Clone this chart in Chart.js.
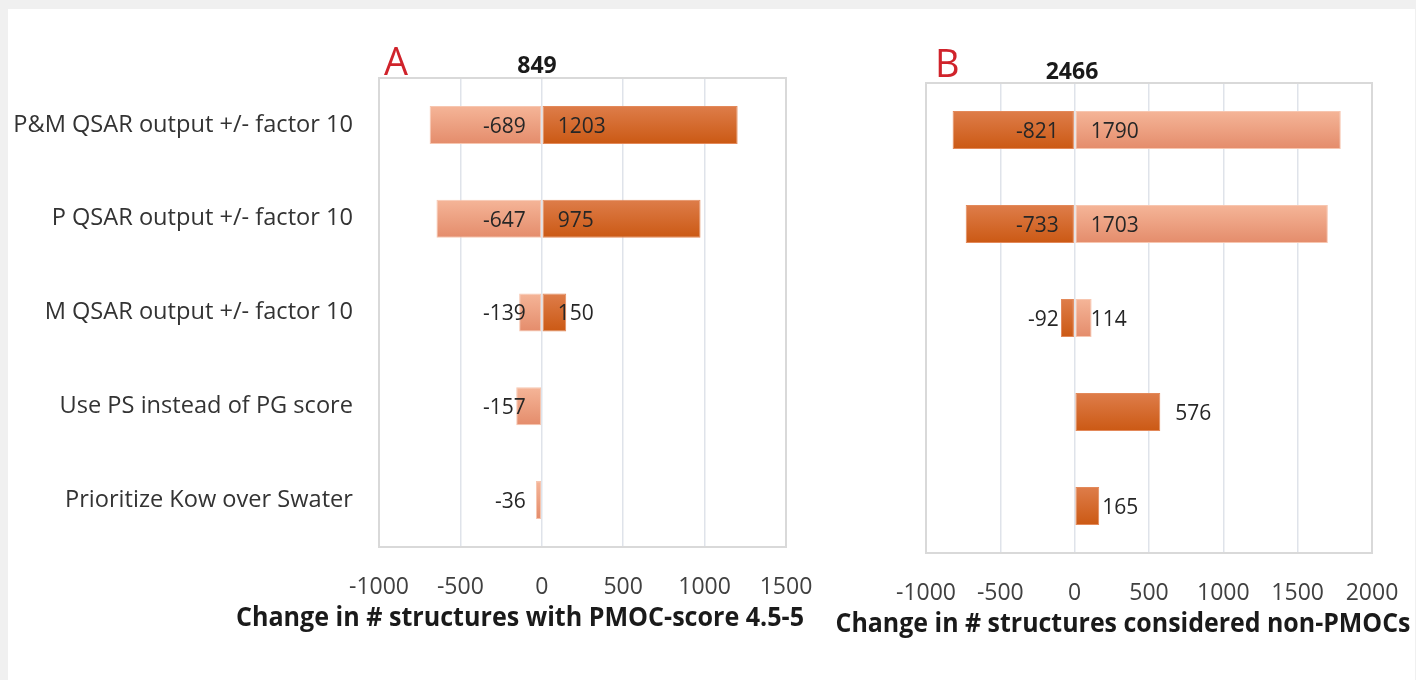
<!DOCTYPE html>
<html>
<head>
<meta charset="utf-8">
<script src="https://cdn.jsdelivr.net/npm/chart.js@4/dist/chart.umd.min.js"></script>
<style>
  html, body { margin: 0; padding: 0; background: #f0f0f0; }
  #panel { position: absolute; left: 8px; top: 9px; width: 1407px; height: 671px; background: #fff; }
  canvas { position: absolute; top: 0; }
  #chartA { left: 0; }
  #chartB { left: 820px; }
</style>
</head>
<body>
<div id="panel"></div>
<canvas id="chartA" width="820" height="680"></canvas>
<canvas id="chartB" width="596" height="680"></canvas>
<script>
const categories = [
    'P&M QSAR output +/- factor 10',
    'P QSAR output +/- factor 10',
    'M QSAR output +/- factor 10',
    'Use PS instead of PG score',
    'Prioritize Kow over Swater'
];

// panel A: change in # structures with PMOC-score 4.5-5
const aFirst = [-689, -647, -139, -157, -36];
const aSecond = [1203, 975, 150, null, null];
const aTicks = [-1000, -500, 0, 500, 1000, 1500];
const aTotal = '849';
const aTitle = 'Change in # structures with PMOC-score 4.5-5';

// panel B: change in # structures considered non-PMOCs
const bFirst = [-821, -733, -92, 576, 165];
const bSecond = [1790, 1703, 114, null, null];
const bTicks = [-1000, -500, 0, 500, 1000, 1500, 2000];
const bTotal = '2466';
const bTitle = 'Change in # structures considered non-PMOCs';

const LIGHT = ['#f5b598', '#e48c6b', '#f7c6b0'];
const DARK = ['#de7d4a', '#cb5914', '#e3895a'];
const FONT = '"Open Sans", "DejaVu Sans", sans-serif';

function barFill(cols) {
    return function (c) {
        const y = c.chart.scales.y;
        if (!y || c.dataIndex === undefined) return cols[0];
        const py = y.getPixelForValue(c.dataIndex);
        if (!isFinite(py)) return cols[0];
        const g = c.chart.ctx.createLinearGradient(0, py - 19, 0, py + 19);
        g.addColorStop(0, cols[0]);
        g.addColorStop(1, cols[1]);
        return g;
    };
}

const panelPlugin = {
    id: 'panel',
    beforeDatasetsDraw(chart, args, opts) {
        const a = chart.chartArea;
        const ctx = chart.ctx;
        ctx.save();
        ctx.strokeStyle = '#d9d9d9';
        ctx.lineWidth = 2;
        ctx.strokeRect(a.left, a.top, a.right - a.left, a.bottom - a.top);
        ctx.restore();
    },
    afterDatasetsDraw(chart, args, opts) {
        const ctx = chart.ctx;
        const zero = chart.scales.x.getPixelForValue(0);
        ctx.save();
        ctx.font = '21px ' + FONT;
        ctx.fillStyle = '#262626';
        ctx.textBaseline = 'middle';
        chart.data.datasets.forEach((ds, di) => {
            const meta = chart.getDatasetMeta(di);
            ds.data.forEach((v, i) => {
                if (v === null) return;
                const bar = meta.data[i];
                const y = bar.y + 2;
                if (v < 0) {
                    ctx.textAlign = 'right';
                    ctx.fillText(String(v), zero - 16, y);
                } else if (opts.outside && opts.outside[i] !== undefined) {
                    ctx.textAlign = 'left';
                    ctx.fillText(String(v), bar.x + opts.outside[i], y);
                } else {
                    ctx.textAlign = 'left';
                    ctx.fillText(String(v), zero + 16, y);
                }
            });
        });
        ctx.restore();
    },
    afterDraw(chart, args, opts) {
        const ctx = chart.ctx;
        ctx.save();
        ctx.textBaseline = 'alphabetic';
        ctx.fillStyle = '#d0232b';
        ctx.font = '38px ' + FONT;
        ctx.textAlign = 'left';
        ctx.fillText(opts.letter, opts.letterX, opts.letterY);
        ctx.fillStyle = '#1a1a1a';
        ctx.font = 'bold 23px ' + FONT;
        ctx.textAlign = 'center';
        ctx.fillText(opts.total, opts.totalX, opts.totalY);
        ctx.font = 'bold 26px ' + FONT;
        ctx.fillText(opts.title, opts.titleX, opts.titleY, opts.titleW);
        ctx.restore();
    }
};

function makeChart(id, o) {
    return new Chart(document.getElementById(id), {
        type: 'bar',
        data: {
            labels: categories,
            datasets: [
                {
                    data: o.first,
                    backgroundColor: barFill(o.firstCols),
                    borderColor: o.firstCols[2],
                    borderWidth: 1,
                    borderSkipped: false,
                    barPercentage: 0.405,
                    categoryPercentage: 1
                },
                {
                    data: o.second,
                    backgroundColor: barFill(o.secondCols),
                    borderColor: o.secondCols[2],
                    borderWidth: 1,
                    borderSkipped: false,
                    barPercentage: 0.405,
                    categoryPercentage: 1
                }
            ]
        },
        options: {
            indexAxis: 'y',
            responsive: false,
            animation: false,
            layout: { padding: { top: o.top, right: o.right, left: 0, bottom: 0 } },
            plugins: {
                legend: { display: false },
                tooltip: { enabled: false },
                panel: o.panel
            },
            scales: {
                y: {
                    stacked: true,
                    grid: { display: false },
                    border: { display: false },
                    ticks: {
                        display: o.showCats,
                        padding: 18,
                        color: '#333',
                        font: { family: FONT, size: 23.6 }
                    },
                    afterFit: s => { s.width = o.left; s.paddingTop = 0; s.paddingBottom = 0; }
                },
                x: {
                    stacked: true,
                    min: o.ticks[0],
                    max: o.ticks[o.ticks.length - 1],
                    grid: { color: '#dfe3ea', lineWidth: 1.5, drawTicks: false },
                    border: { display: false },
                    ticks: {
                        autoSkip: false,
                        maxRotation: 0,
                        padding: 27,
                        color: '#404040',
                        font: { family: FONT, size: 23 },
                        callback: v => String(v)
                    },
                    afterBuildTicks: s => { s.ticks = o.ticks.map(v => ({ value: v })); },
                    afterFit: s => { s.height = o.bottom; s.paddingLeft = 0; s.paddingRight = 0; }
                }
            }
        },
        plugins: [panelPlugin]
    });
}

makeChart('chartA', {
    first: aFirst, second: aSecond, ticks: aTicks,
    firstCols: LIGHT, secondCols: DARK,
    showCats: true,
    left: 379, right: 34, top: 78, bottom: 133,
    panel: {
        letter: 'A', letterX: 384, letterY: 75,
        total: aTotal, totalX: 537, totalY: 73,
        title: aTitle, titleX: 520, titleY: 626, titleW: 568
    }
});

makeChart('chartB', {
    first: bFirst, second: bSecond, ticks: bTicks,
    firstCols: DARK, secondCols: LIGHT,
    showCats: false,
    left: 106, right: 44, top: 83, bottom: 127,
    panel: {
        letter: 'B', letterX: 115, letterY: 77,
        total: bTotal, totalX: 252, totalY: 79,
        title: bTitle, titleX: 303, titleY: 632, titleW: 575,
        outside: { 3: 15, 4: 3 }
    }
});
</script>
</body>
</html>
